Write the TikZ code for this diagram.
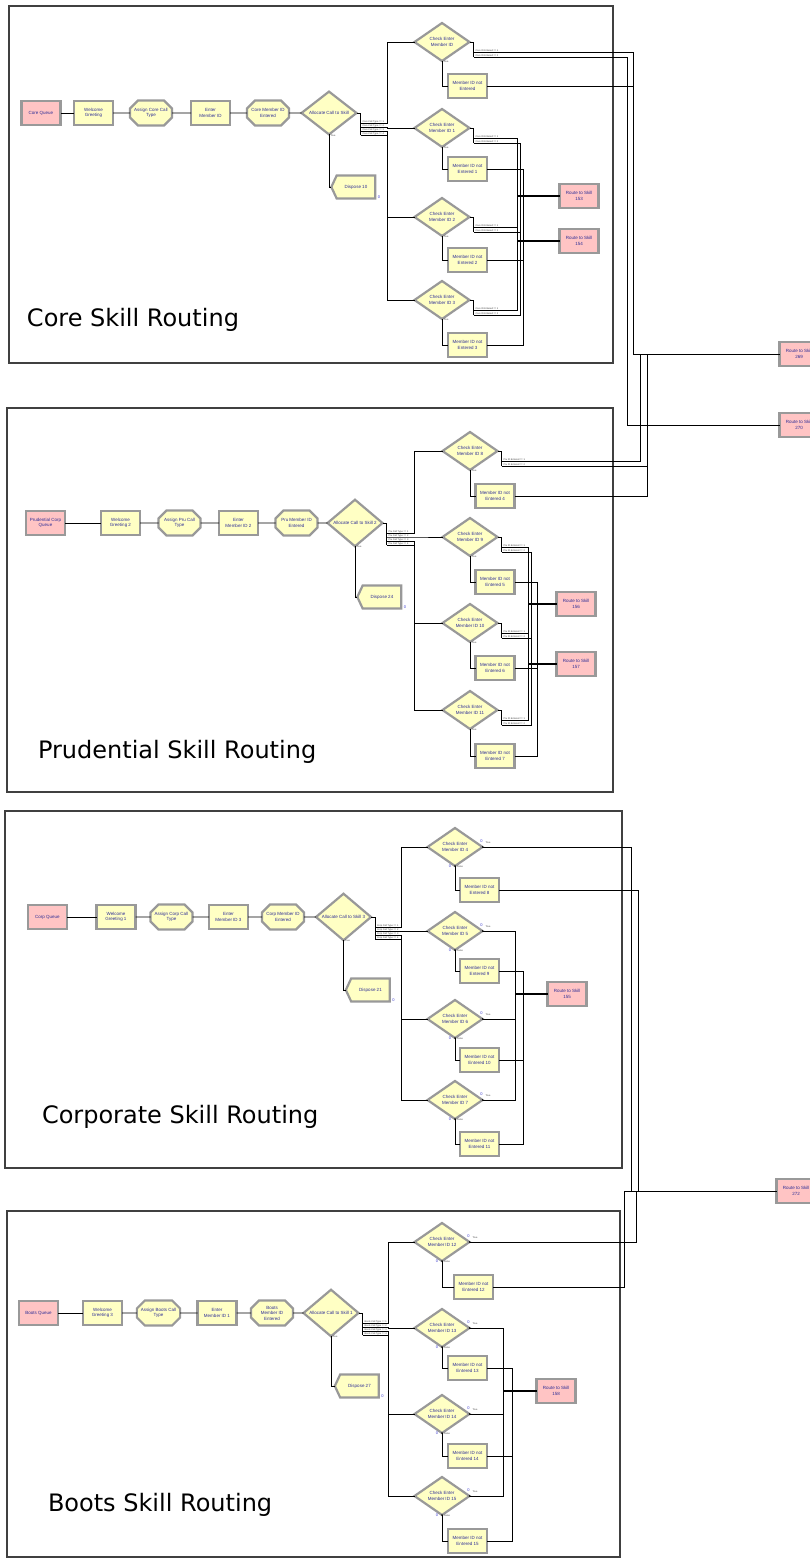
\documentclass[tikz,border=0pt]{standalone}
\usepackage{fontspec}
\setmainfont{Liberation Sans}
\newfontfamily\ttlfont{DejaVu Sans}
\usetikzlibrary{shapes.geometric,shapes.misc,shapes.symbols}
\definecolor{pinkf}{HTML}{FFC4C4}
\definecolor{yelf}{HTML}{FFFFC4}
\definecolor{bord}{HTML}{999999}
\definecolor{navy}{HTML}{2E2E96}
\definecolor{cntblue}{HTML}{4040D0}
\tikzset{
  every node/.style={inner sep=0pt, outer sep=0pt},
  lbl/.style={font=\fontsize{4.5}{5.5}\selectfont, text=navy, align=center},
  mod/.style={lbl, draw=bord, line width=2.2pt},
  pbox/.style={mod, rectangle, fill=pinkf, minimum width=39pt, minimum height=24pt},
  ybox/.style={mod, rectangle, fill=yelf, minimum width=39pt, minimum height=24pt},
  cbox/.style={mod, chamfered rectangle, chamfered rectangle xsep=4pt, chamfered rectangle ysep=4pt, fill=yelf, minimum width=42pt, minimum height=25pt},
  dmd/.style={mod, diamond, fill=yelf, minimum width=55pt, minimum height=38pt},
  dsp/.style={mod, signal, signal to=west, signal pointer angle=130, fill=yelf, minimum width=44pt, minimum height=23pt},
  ln/.style={draw=black, line width=0.8pt},
  tln/.style={draw=black, line width=1.8pt},
  tiny/.style={font=\fontsize{2.4}{2.6}\selectfont, text=black!75},
  cnt/.style={font=\fontsize{4}{4}\selectfont, text=cntblue},
  panel/.style={draw=black!75, line width=1.1pt},
  ptitle/.style={font=\ttlfont\fontsize{24}{27}\selectfont, anchor=base west},
}
\begin{document}
\begin{tikzpicture}[x=1pt,y=-1pt]
\useasboundingbox (0,0) rectangle (810,1560);
\fill[white] (0,0) rectangle (810,1560);

% ---------------- panels ----------------
\draw[panel] (9,6) rectangle (613,363);
\draw[panel] (7,408) rectangle (613,792);
\draw[panel] (5,811) rectangle (622,1168);
\draw[panel] (7,1211) rectangle (620,1557);
\node[ptitle] (t1) at (27,326) {Core Skill Routing};
\node[ptitle] (t2) at (38,758) {Prudential Skill Routing};
\node[ptitle] (t3) at (42,1123) {Corporate Skill Routing};
\node[ptitle] (t4) at (48,1511) {Boots Skill Routing};

% ---------------- far right routes ----------------
\node[pbox] (cr269) at (799,354) {Route to Skill\\269};
\node[pbox] (cr270) at (799,425) {Route to Skill\\270};
\node[pbox] (cr272) at (796,1191) {Route to Skill\\272};

% ================= CORE =================
\node[pbox] (cq) at (41,113) {Core Queue};
\node[ybox] (cwg) at (93.5,113) {Welcome\\Greeting};
\node[cbox] (cac) at (151,113) {Assign Core Call\\Type};
\node[ybox] (cem) at (210.5,113) {Enter\\Member ID};
\node[cbox] (cme) at (268,113) {Core Member ID\\Entered};
\node[dmd] (cal) at (329,113) {Allocate Call to Skill};
\node[dsp] (cdp) at (356,187) {Dispose 10};
\node[cnt, anchor=south west] (cdp-c) at ([xshift=2.5pt]cdp.south east) {0};
\foreach \a/\b in {cq/cwg,cwg/cac,cac/cem,cem/cme,cme/cal} \draw[ln] (\a) -- (\b);
\draw[ln] (cal.south) |- (cdp.west);
\node[tiny, anchor=north west] (cal-t) at ([xshift=1.5pt]cal.south) {True};
\draw[ln] (cal.east) -- ++(4,0) -- ++(0,22);
\coordinate (cbus) at (387,0);

\node[pbox] (cr153) at (579,196) {Route to Skill\\153};
\node[pbox] (cr154) at (579,241) {Route to Skill\\154};

\foreach \d/\b/\yd/\yb/\ld/\lb in {cd0/cn0/42/86/{Member ID}/{Entered}, cd1/cn1/128/169/{Member ID 1}/{Entered 1}, cd2/cn2/217/260/{Member ID 2}/{Entered 2}, cd3/cn3/300/345/{Member ID 3}/{Entered 3}}{
  \node[dmd] (\d) at (442,\yd) {Check Enter\\\ld};
  \node[ybox] (\b) at (467.5,\yb) {Member ID not\\\lb};
  \draw[ln] (\d.south) |- (\b.west);
  \node[tiny, anchor=north west] (\d-t) at ([xshift=1.5pt]\d.south) {True};
  \draw[ln] (\d.east) -- ++(4,0) -- ++(0,15);
  \coordinate (\d-o1) at ([shift={(4,10)}]\d.east);
  \coordinate (\d-o2) at ([shift={(4,15)}]\d.east);
  \node[tiny, anchor=south west] (\d-l1) at ([shift={(6,9.6)}]\d.east) {Core ID Entered == 1};
  \node[tiny, anchor=south west] (\d-l2) at ([shift={(6,14.6)}]\d.east) {Core ID Entered == 2};
}
\foreach \k/\d in {1/cd0,2/cd1,3/cd2,4/cd3}{
  \coordinate (cal-o\k) at ([shift={(4,6+4*\k)}]cal.east);
  \draw[ln] (cal-o\k) -- (cal-o\k -| cbus) |- (\d.west);
  \node[tiny, anchor=south west] (cal-l\k) at ([shift={(6,5.6+4*\k)}]cal.east) {Core Call Type == \k};
}
\draw[ln] (cd0-o1) -| (633,354) -- (cr269.west);
\draw[ln] (cd0-o2) -| (627,425) -- (cr270.west);
\draw[ln] (cn0.east) -| (633,354);
\foreach \d in {cd1,cd2,cd3}{
  \draw[ln] (\d-o1) -| (517,196);
  \draw[ln] (\d-o2) -| (520,241);
}
\foreach \b in {cn1,cn2,cn3} \draw[ln] (\b.east) -| (523,196);
\draw[tln] (517,196) -- (cr153.west);
\draw[tln] (517,241) -- (cr154.west);

% ================= PRUDENTIAL =================
\node[pbox] (pq) at (45.5,523) {Prudential Corp\\Queue};
\node[ybox] (pwg) at (120.5,523) {Welcome\\Greeting 2};
\node[cbox] (pac) at (179.5,523) {Assign Pru Call\\Type};
\node[ybox] (pem) at (238.5,523) {Enter\\Member ID 2};
\node[cbox] (pme) at (296.5,523) {Pru Member ID\\Entered};
\node[dmd] (pal) at (355,523) {Allocate Call to Skill 2};
\node[dsp] (pdp) at (382,597) {Dispose 24};
\node[cnt, anchor=south west] (pdp-c) at ([xshift=2.5pt]pdp.south east) {0};
\foreach \a/\b in {pq/pwg,pwg/pac,pac/pem,pem/pme,pme/pal} \draw[ln] (\a) -- (\b);
\draw[ln] (pal.south) |- (pdp.west);
\node[tiny, anchor=north west] (pal-t) at ([xshift=1.5pt]pal.south) {True};
\draw[ln] (pal.east) -- ++(4,0) -- ++(0,22);
\coordinate (pbus) at (414,0);

\node[pbox] (pr156) at (576,604) {Route to Skill\\156};
\node[pbox] (pr157) at (576,664) {Route to Skill\\157};

\foreach \d/\b/\yd/\yb/\ld/\lb in {pd8/pn4/451/496/8/4, pd9/pn5/537/582/9/5, pd10/pn6/623/668/10/6, pd11/pn7/710/756/11/7}{
  \node[dmd] (\d) at (470,\yd) {Check Enter\\Member ID \ld};
  \node[ybox] (\b) at (495,\yb) {Member ID not\\Entered \lb};
  \draw[ln] (\d.south) |- (\b.west);
  \node[tiny, anchor=north west] (\d-t) at ([xshift=1.5pt]\d.south) {True};
  \draw[ln] (\d.east) -- ++(4,0) -- ++(0,15);
  \coordinate (\d-o1) at ([shift={(4,10)}]\d.east);
  \coordinate (\d-o2) at ([shift={(4,15)}]\d.east);
  \node[tiny, anchor=south west] (\d-l1) at ([shift={(6,9.6)}]\d.east) {Pru ID Entered == 1};
  \node[tiny, anchor=south west] (\d-l2) at ([shift={(6,14.6)}]\d.east) {Pru ID Entered == 2};
}
\foreach \k/\d in {1/pd8,2/pd9,3/pd10,4/pd11}{
  \coordinate (pal-o\k) at ([shift={(4,6+4*\k)}]pal.east);
  \draw[ln] (pal-o\k) -- (pal-o\k -| pbus) |- (\d.west);
  \node[tiny, anchor=south west] (pal-l\k) at ([shift={(6,5.6+4*\k)}]pal.east) {Pru Call Type == \k};
}
\draw[ln] (pd8-o1) -| (640,354);
\draw[ln] (pd8-o2) -| (647,354);
\draw[ln] (pn4.east) -| (647,354);
\foreach \d in {pd9,pd10,pd11}{
  \draw[ln] (\d-o1) -| (528,604);
  \draw[ln] (\d-o2) -| (531,664);
}
\foreach \b in {pn5,pn6,pn7} \draw[ln] (\b.east) -| (537,604);
\draw[tln] (528,604) -- (pr156.west);
\draw[tln] (528,664) -- (pr157.west);

% ================= CORPORATE =================
\node[pbox] (oq) at (47.5,917) {Corp Queue};
\node[ybox] (owg) at (116,917) {Welcome\\Greeting 1};
\node[cbox] (oac) at (171.5,917) {Assign Corp Call\\Type};
\node[ybox] (oem) at (228.5,917) {Enter\\Member ID 3};
\node[cbox] (ome) at (283,917) {Corp Member ID\\Entered};
\node[dmd] (oal) at (343.5,917) {Allocate Call to Skill 3};
\node[dsp] (odp) at (370.5,990) {Dispose 21};
\node[cnt, anchor=south west] (odp-c) at ([xshift=2.5pt]odp.south east) {0};
\foreach \a/\b in {oq/owg,owg/oac,oac/oem,oem/ome,ome/oal} \draw[ln] (\a) -- (\b);
\draw[ln] (oal.south) |- (odp.west);
\node[tiny, anchor=north west] (oal-t) at ([xshift=1.5pt]oal.south) {True};
\draw[ln] (oal.east) -- ++(4,0) -- ++(0,22);
\coordinate (obus) at (401,0);

\node[pbox] (or155) at (567,994) {Route to Skill\\155};

\foreach \d/\b/\yd/\yb/\ld/\lb in {od4/on8/847/890/4/8, od5/on9/931/971/5/9, od6/on10/1019/1060/6/10, od7/on11/1100/1144/7/11}{
  \node[dmd] (\d) at (455,\yd) {Check Enter\\Member ID \ld};
  \node[ybox] (\b) at (479.5,\yb) {Member ID not\\Entered \lb};
  \draw[ln] (\d.south) |- (\b.west);
  \node[cnt, anchor=south east] (\d-c1) at ([shift={(0,-4)}]\d.east) {0};
  \node[tiny, anchor=south west] (\d-c2) at ([shift={(3,-3)}]\d.east) {True};
  \node[cnt, anchor=north east] (\d-c3) at ([shift={(-4,-1)}]\d.south) {0};
  \node[tiny, anchor=north west] (\d-c4) at ([shift={(2,0)}]\d.south) {False};
  \fill (\d.east) circle (0.9pt);
  \fill (\d.south) circle (0.9pt);
}
\foreach \k/\d in {1/od4,2/od5,3/od6,4/od7}{
  \coordinate (oal-o\k) at ([shift={(4,6+4*\k)}]oal.east);
  \draw[ln] (oal-o\k) -- (oal-o\k -| obus) |- (\d.west);
  \node[tiny, anchor=south west] (oal-l\k) at ([shift={(6,5.6+4*\k)}]oal.east) {Corp Call Type == \k};
}
\draw[ln] (od4.east) -| (631,1191) -- (cr272.west);
\draw[ln] (on8.east) -| (638,1191);
\foreach \d in {od5,od6,od7} \draw[ln] (\d.east) -| (515,994);
\foreach \b in {on9,on10,on11} \draw[ln] (\b.east) -| (523,994);
\draw[tln] (515,994) -- (or155.west);

% ================= BOOTS =================
\node[pbox] (bq) at (38.5,1313) {Boots Queue};
\node[ybox] (bwg) at (102.5,1313) {Welcome\\Greeting 3};
\node[cbox] (bac) at (158.5,1313) {Assign Boots Call\\Type};
\node[ybox] (bem) at (217,1313) {Enter\\Member ID 1};
\node[cbox] (bme) at (272,1313) {Boots\\Member ID\\Entered};
\node[dmd] (bal) at (331,1313) {Allocate Call to Skill 1};
\node[dsp] (bdp) at (359.5,1386) {Dispose 27};
\node[cnt, anchor=south west] (bdp-c) at ([xshift=2.5pt]bdp.south east) {0};
\foreach \a/\b in {bq/bwg,bwg/bac,bac/bem,bem/bme,bme/bal} \draw[ln] (\a) -- (\b);
\draw[ln] (bal.south) |- (bdp.west);
\node[tiny, anchor=north west] (bal-t) at ([xshift=1.5pt]bal.south) {True};
\draw[ln] (bal.east) -- ++(4,0) -- ++(0,22);
\coordinate (bbus) at (388,0);

\node[pbox] (br158) at (556,1391) {Route to Skill\\158};

\foreach \d/\b/\yd/\xb/\yb/\ld/\lb in {bd12/bn12/1242/473.5/1287/12/12, bd13/bn13/1328/467.5/1368/13/13, bd14/bn14/1414/467.5/1456/14/14, bd15/bn15/1496/467.5/1541/15/15}{
  \node[dmd] (\d) at (442,\yd) {Check Enter\\Member ID \ld};
  \node[ybox] (\b) at (\xb,\yb) {Member ID not\\Entered \lb};
  \draw[ln] (\d.south) |- (\b.west);
  \node[cnt, anchor=south east] (\d-c1) at ([shift={(0,-4)}]\d.east) {0};
  \node[tiny, anchor=south west] (\d-c2) at ([shift={(3,-3)}]\d.east) {True};
  \node[cnt, anchor=north east] (\d-c3) at ([shift={(-4,-1)}]\d.south) {0};
  \node[tiny, anchor=north west] (\d-c4) at ([shift={(2,0)}]\d.south) {False};
  \fill (\d.east) circle (0.9pt);
  \fill (\d.south) circle (0.9pt);
}
\foreach \k/\d in {1/bd12,2/bd13,3/bd14,4/bd15}{
  \coordinate (bal-o\k) at ([shift={(4,6+4*\k)}]bal.east);
  \draw[ln] (bal-o\k) -- (bal-o\k -| bbus) |- (\d.west);
  \node[tiny, anchor=south west] (bal-l\k) at ([shift={(6,5.6+4*\k)}]bal.east) {Boots Call Type == \k};
}
\draw[ln] (bd12.east) -| (636,1191);
\draw[ln] (bn12.east) -| (624,1191) -- (cr272.west);
\foreach \d in {bd13,bd14,bd15} \draw[ln] (\d.east) -| (503,1391);
\foreach \b in {bn13,bn14,bn15} \draw[ln] (\b.east) -| (512,1391);
\draw[tln] (503,1391) -- (br158.west);
\end{tikzpicture}
\end{document}
